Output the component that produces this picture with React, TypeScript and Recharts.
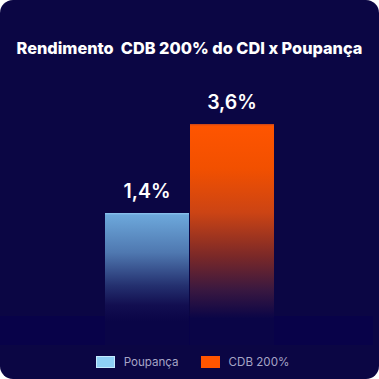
import React from 'react';
import { BarChart, Bar, XAxis, YAxis, Legend, LabelList } from 'recharts';

const categories = ['Rendimento'];
const poupancaValues = [1.4];
const cdbValues = [3.6];
const seriesNames = ['Poupança', 'CDB 200%'];
const title = 'Rendimento  CDB 200% do CDI x Poupança';

const Y_MIN = -1.86;
const Y_MAX = 4.69;

const data = categories.map((c, i) => ({ name: c, poupanca: poupancaValues[i], cdb: cdbValues[i] }));

const BG = '#0b0644';
const FADE = '#0a0547';

const fmt = (v: any) => {
  const n = Array.isArray(v) ? v[1] : v;
  return `${Number(n).toFixed(1).replace('.', ',')}%`;
};

const makeShape = (gradId: string, topColor: string) => (props: any) => {
  const { x, y, width, height } = props;
  if (width == null || height == null) return null;
  return (
    <g>
      <rect x={x} y={y} width={width} height={height} fill={`url(#${gradId})`} />
      <rect x={x} y={y} width={width} height={1.2} fill={topColor} />
    </g>
  );
};

const renderLabel = (props: any) => {
  const { x, y, width, value } = props;
  return (
    <text
      x={x + width / 2}
      y={y - 15}
      textAnchor="middle"
      fill="#ffffff"
      fontFamily="Inter, 'Open Sans', sans-serif"
      fontWeight={600}
      fontSize={19.5}
    >
      {fmt(value)}
    </text>
  );
};

const LegendContent = () => {
  const items = [
    { name: seriesNames[0], color: '#8ecff5', border: '#c4eaff' },
    { name: seriesNames[1], color: '#ff5500', border: '#ff5500' },
  ];
  return (
    <div
      style={{
        display: 'flex',
        justifyContent: 'center',
        alignItems: 'center',
        height: 34,
        fontFamily: "Inter, 'Open Sans', sans-serif",
        fontSize: 11.6,
        color: '#a6a4c6',
        paddingLeft: 6,
      }}
    >
      {items.map((it, i) => (
        <div key={it.name} style={{ display: 'flex', alignItems: 'center', marginRight: i === 0 ? 22 : 0 }}>
          <div
            style={{
              width: 17,
              height: 10,
              background: it.color,
              border: `1px solid ${it.border}`,
              marginRight: 9,
            }}
          />
          <span>{it.name}</span>
        </div>
      ))}
    </div>
  );
};

export default function App() {
  return (
    <div style={{ position: 'absolute', left: 0, top: 0, width: 379, height: 379 }}>
      <div
        style={{
          position: 'absolute',
          left: 0,
          top: 0,
          width: 379,
          height: 379,
          background: BG,
          borderRadius: 13,
          overflow: 'hidden',
        }}
      >
        <div
          style={{
            position: 'absolute',
            left: 0,
            top: 316,
            width: 373,
            height: 29,
            background: '#080249',
          }}
        />
      </div>
      <div
        style={{
          position: 'absolute',
          left: 0,
          top: 38,
          width: 379,
          textAlign: 'center',
          color: '#ffffff',
          fontFamily: "Inter, 'Open Sans', sans-serif",
          fontWeight: 800,
          fontSize: 16.3,
          whiteSpace: 'pre',
        }}
      >
        {title}
      </div>
      <div style={{ position: 'absolute', left: 0, top: 0 }}>
        <BarChart
          width={379}
          height={379}
          data={data}
          margin={{ top: 80, right: 0, bottom: 0, left: 0 }}
          barGap={1}
        >
          <defs>
            <linearGradient id="gradPoup" x1="0" y1="0" x2="0" y2="1">
              <stop offset="0" stopColor="#6eaadd" />
              <stop offset="0.3" stopColor="#4f78b0" />
              <stop offset="0.55" stopColor="#24306f" />
              <stop offset="0.7" stopColor="#120e50" />
              <stop offset="0.82" stopColor={FADE} />
              <stop offset="1" stopColor={FADE} />
            </linearGradient>
            <linearGradient id="gradCdb" x1="0" y1="0" x2="0" y2="1">
              <stop offset="0" stopColor="#ff5500" />
              <stop offset="0.2" stopColor="#f25000" />
              <stop offset="0.4" stopColor="#cc4414" />
              <stop offset="0.6" stopColor="#7a2828" />
              <stop offset="0.75" stopColor="#3a1840" />
              <stop offset="0.88" stopColor={FADE} />
              <stop offset="1" stopColor={FADE} />
            </linearGradient>
          </defs>
          <XAxis dataKey="name" hide />
          <YAxis hide domain={[Y_MIN, Y_MAX]} allowDataOverflow />
          <Legend
            verticalAlign="bottom"
            height={34}
            content={<LegendContent />}
            wrapperStyle={{ left: 0, width: 379 }}
          />
          <Bar
            name={seriesNames[0]}
            dataKey={(d: any) => [Y_MIN, d.poupanca]}
            barSize={84}
            isAnimationActive={false}
            shape={makeShape('gradPoup', '#8cc2ee')}
          >
            <LabelList dataKey={(d: any) => d.poupanca} content={renderLabel} />
          </Bar>
          <Bar
            name={seriesNames[1]}
            dataKey={(d: any) => [Y_MIN, d.cdb]}
            barSize={84}
            isAnimationActive={false}
            shape={makeShape('gradCdb', '#d04818')}
          >
            <LabelList dataKey={(d: any) => d.cdb} content={renderLabel} />
          </Bar>
        </BarChart>
      </div>
    </div>
  );
}
